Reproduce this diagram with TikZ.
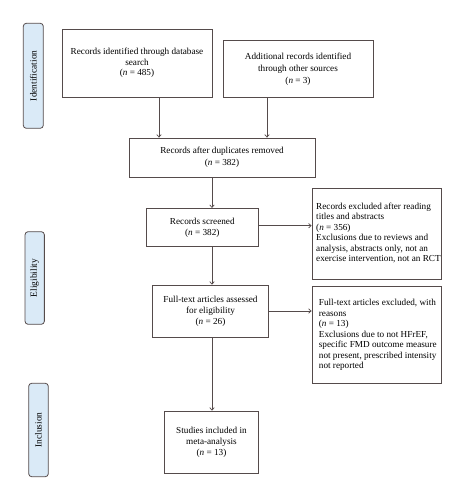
\documentclass[tikz,border=0pt]{standalone}
\usepackage{fontspec}
\setmainfont{Liberation Serif}
\usetikzlibrary{arrows.meta}
\definecolor{lineclr}{RGB}{85,75,75}
\definecolor{sidefill}{RGB}{218,234,247}
\tikzset{
  box/.style={draw=lineclr, line width=0.8pt, inner sep=0pt, align=center,
    font=\fontsize{9.2}{10.7}\selectfont, text=black},
  frame/.style={draw=lineclr, line width=0.8pt, inner sep=0pt},
  ltext/.style={inner sep=0pt, align=left, anchor=west,
    font=\fontsize{9.2}{10.5}\selectfont, text=black},
  side/.style={draw=lineclr, line width=0.8pt, fill=sidefill, rounded corners=3pt,
    inner sep=0pt, rotate=90, font=\fontsize{9.4}{10.7}\selectfont, text=black},
  arr/.style={draw=lineclr, line width=0.7pt, -{Straight Barb[length=2.5pt,width=4.5pt]}}
}
\begin{document}
\begin{tikzpicture}[x=1pt,y=-1pt]
\useasboundingbox (0,0) rectangle (465,500);
\node[box, minimum width=150pt, minimum height=68pt] (b1) at (137,63)
  {Records identified through database\\search\\(\textit{n} = 485)};
\node[box, minimum width=150pt, minimum height=57pt, font=\fontsize{9.2}{12.2}\selectfont] (b2) at (298,69)
  {Additional records identified\\through other sources\\(\textit{n} = 3)};
\node[box, minimum width=186pt, minimum height=39pt, font=\fontsize{9.2}{12.3}\selectfont] (b3) at (222,157.5)
  {Records after duplicates removed\\(\textit{n} = 382)};
\node[box, minimum width=112.7pt, minimum height=38.4pt] (b4) at (202.3,227.5)
  {Records screened\\(\textit{n} = 382)};
\node[frame, minimum width=129pt, minimum height=90.7pt] (e1) at (376.5,233.7) {};
\node[ltext] (e1t) at (316,233) 
  {Records excluded after reading\\titles and abstracts\\(\textit{n} = 356)\\Exclusions due to reviews and\\analysis, abstracts only, not an\\exercise intervention, not an RCT};
\node[frame, minimum width=129pt, minimum height=96.6pt] (e2) at (376.5,335) {};
\node[ltext] (e2t) at (318.7,335)
  {Full-text articles excluded, with\\reasons\\(\textit{n} = 13)\\Exclusions due to not HFrEF,\\specific FMD outcome measure\\not present, prescribed intensity\\not reported};
\node[box, minimum width=115.6pt, minimum height=52.3pt, font=\fontsize{9.2}{11.3}\selectfont] (b5) at (210.5,311.2)
  {Full-text articles assessed\\for eligibility\\(\textit{n} = 26)};
\node[frame, minimum width=93.6pt, minimum height=62.3pt] (b6f) at (211.5,442.2) {};
\node[box, draw=none] (b6) at (b6f.center)
  {Studies included in\\meta-analysis\\(\textit{n} = 13)};
\node[side, minimum width=105pt, minimum height=20pt] (s1) at (33.3,75.8) {Identification};
\node[side, minimum width=92.6pt, minimum height=19.3pt] (s2) at (34.7,278) {Eligibility};
\node[side, minimum width=93.4pt, minimum height=19.6pt] (s3) at (38.5,430) {Inclusion};
\coordinate (ax1) at (159,0);
\coordinate (ax2) at (267,0);
\coordinate (axm) at (212,0);
\coordinate (ay1) at (0,225.7);
\coordinate (ay2) at (0,311);
\draw[arr] (b1.south -| ax1) -- (b3.north -| ax1);
\draw[arr] (b2.south -| ax2) -- (b3.north -| ax2);
\draw[arr] (b3.south -| axm) -- (b4.north -| axm);
\draw[arr] (b4.south -| axm) -- (b5.north -| axm);
\draw[arr] (b5.south -| axm) -- (b6f.north -| axm);
\draw[arr] (b4.east |- ay1) -- (e1.west |- ay1);
\draw[arr] (b5.east |- ay2) -- (e2.west |- ay2);
\end{tikzpicture}
\end{document}
